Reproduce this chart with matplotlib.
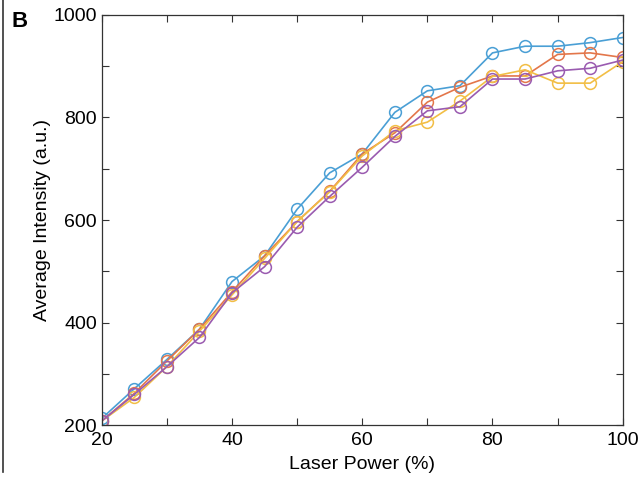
import numpy as np
import matplotlib
matplotlib.use('Agg')
import matplotlib.pyplot as plt
from matplotlib.lines import Line2D

plt.rcParams['font.family'] = ['Liberation Sans', 'DejaVu Sans']

power = [20, 25, 30, 35, 40, 45, 50, 55, 60, 65, 70, 75, 80, 85, 90, 95, 100]
blue = [213, 271, 328, 387, 480, 530, 621, 692, 729, 810, 852, 862, 926, 939, 939, 946, 956]
red = [208, 262, 325, 387, 460, 530, 597, 656, 729, 770, 830, 859, 881, 881, 923, 926, 917]
yellow = [208, 254, 314, 383, 454, 525, 597, 655, 725, 774, 791, 832, 880, 893, 867, 867, 909]
purple = [208, 260, 314, 371, 458, 509, 586, 646, 703, 763, 813, 821, 875, 875, 891, 896, 912]

colors = ['#4A9FD5', '#E3764A', '#F2BE45', '#9A5BB0']

fig = plt.figure(figsize=(6.44, 4.82), dpi=100)
ax = fig.add_axes([0.158, 0.118, 0.809, 0.851])

for ys, c in zip([blue, red, yellow, purple], colors):
    ax.plot(power, ys, '-o', color=c, lw=1.2, ms=8.5, mfc='none', mew=1.1)

ax.set_xlim(20, 100)
ax.set_ylim(200, 1000)
ax.set_xticks([20, 40, 60, 80, 100])
ax.set_xticks(np.arange(20, 101, 10), minor=True)
ax.set_yticks([200, 400, 600, 800, 1000])
ax.set_yticks(np.arange(200, 1001, 100), minor=True)
ax.tick_params(which='both', direction='in', top=True, right=True,
               length=5, width=0.8, color='#333333', labelsize=14)
ax.tick_params(axis='x', pad=5)
for s in ax.spines.values():
    s.set_color('#333333')
    s.set_linewidth(0.9)

ax.set_xlabel('Laser Power (%)', fontsize=14, labelpad=5)
ax.set_ylabel('Average Intensity (a.u.)', fontsize=14, labelpad=2)

fig.text(0.018, 0.955, 'B', fontsize=16, fontweight='bold', ha='left', va='center')
fig.add_artist(Line2D([0.005, 0.005], [0.02, 1.0], color='#333333', lw=1.2,
                      transform=fig.transFigure))

fig.savefig('out.png', dpi=100)
